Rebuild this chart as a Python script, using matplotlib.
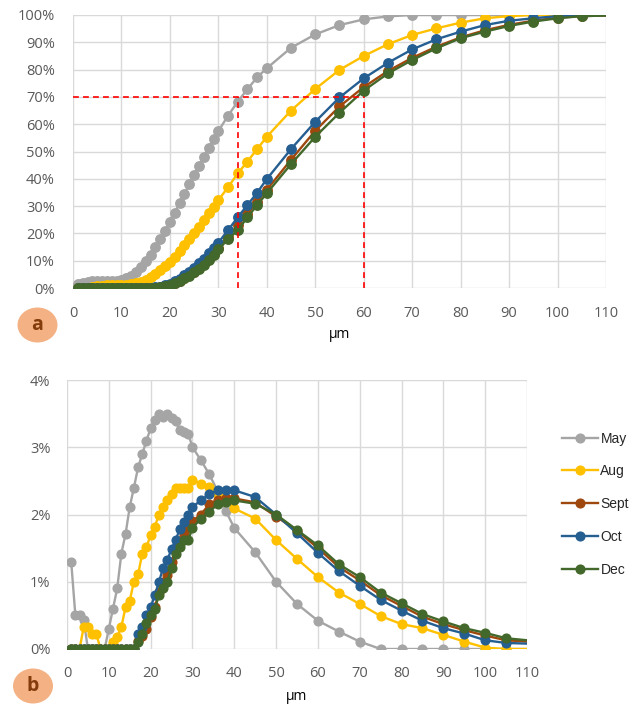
import matplotlib
matplotlib.use('Agg')
import matplotlib.pyplot as plt
from matplotlib.patches import Ellipse

# particle size (um)
x = list(range(1, 31)) + [32, 34, 36, 38, 40] + list(range(45, 111, 5))

# b: frequency distribution (%)
may_f = [1.3, 0.5, 0.5, 0.43, 0, 0, 0, 0, 0, 0.3, 0.6, 0.9, 1.42, 1.71, 2.11, 2.4, 2.7, 2.9, 3.1, 3.28,
         3.4, 3.5, 3.45, 3.5, 3.44, 3.39, 3.25, 3.22, 3.2, 3.0,
         2.81, 2.6, 2.35, 2.05, 1.8,
         1.44, 1.0, 0.67, 0.42, 0.26, 0.11, 0, 0, 0, 0, 0, 0, 0, 0]
aug_f = [0, 0, 0, 0.33, 0.33, 0.23, 0.23, 0, 0, 0, 0.1, 0.18, 0.33, 0.62, 0.72, 1.0, 1.11, 1.42, 1.52, 1.69,
         1.82, 2.0, 2.11, 2.21, 2.31, 2.4, 2.4, 2.4, 2.4, 2.52,
         2.46, 2.41, 2.3, 2.2, 2.09,
         1.94, 1.62, 1.34, 1.07, 0.84, 0.67, 0.49, 0.37, 0.31, 0.21, 0.11, 0.02, 0, 0]
sept_f = [0] * 16 + [0.12, 0.2, 0.3, 0.48,
          0.62, 0.85, 1.0, 1.1, 1.3, 1.48, 1.6, 1.7, 1.8, 1.9,
          2.0, 2.15, 2.22, 2.24, 2.24,
          2.18, 1.97, 1.76, 1.5, 1.22, 1.02, 0.8, 0.64, 0.48, 0.37, 0.28, 0.2, 0.13, 0.11]
oct_f = [0] * 16 + [0.22, 0.33, 0.5, 0.62,
         0.8, 1.0, 1.21, 1.32, 1.49, 1.62, 1.79, 1.89, 2.0, 2.11,
         2.21, 2.3, 2.36, 2.36, 2.36,
         2.26, 2.0, 1.72, 1.43, 1.16, 0.94, 0.73, 0.57, 0.42, 0.31, 0.23, 0.13, 0.09, 0.08]
dec_f = [0] * 16 + [0.1, 0.22, 0.38, 0.5,
         0.6, 0.8, 0.9, 1.0, 1.21, 1.42, 1.52, 1.62, 1.62, 1.8,
         1.94, 2.04, 2.15, 2.19, 2.21,
         2.16, 2.0, 1.77, 1.54, 1.26, 1.07, 0.84, 0.68, 0.52, 0.41, 0.31, 0.24, 0.16, 0.13]

# a: cumulative distribution (%)
may_c = [1.3, 1.8, 2.3, 2.7, 2.7, 2.7, 2.7, 2.7, 2.7, 3.0, 3.6, 4.5, 5.9, 7.6, 9.8, 12.2, 14.9, 17.8, 20.9, 24.2,
         27.6, 31.1, 34.5, 38.0, 41.4, 44.8, 48.1, 51.3, 54.5, 57.5,
         63.1, 68.3, 72.8, 77.2, 80.5,
         88.0, 92.9, 96.3, 98.4, 99.5, 100, 100, 100, 100, 100, 100, 100, 100, 100]
aug_c = [0, 0, 0, 0.3, 0.6, 0.9, 1.1, 1.1, 1.1, 1.1, 1.2, 1.4, 1.7, 2.3, 3.0, 4.0, 5.1, 6.5, 8.0, 9.7,
         11.5, 13.5, 15.6, 17.8, 20.1, 22.5, 24.9, 27.3, 29.7, 32.2,
         36.9, 42.0, 46.3, 50.9, 55.4,
         65.0, 72.9, 79.9, 85.0, 89.3, 92.7, 95.1, 97.2, 98.8, 99.6, 100, 100, 100, 100]
sept_c = [0] * 16 + [0.1, 0.3, 0.6, 1.1,
          1.7, 2.6, 3.6, 4.7, 6.0, 7.5, 9.1, 10.8, 12.6, 14.6,
          18.8, 22.9, 27.2, 31.6, 36.0,
          47.0, 57.6, 66.5, 73.6, 79.5, 84.3, 88.4, 91.8, 94.4, 96.4, 97.9, 99.0, 99.6, 99.8]
oct_c = [0] * 16 + [0.2, 0.5, 1.0, 1.6,
         2.4, 3.4, 4.6, 5.9, 7.4, 9.0, 10.8, 12.7, 14.7, 16.6,
         21.2, 25.9, 30.4, 34.9, 39.9,
         50.9, 60.9, 69.8, 76.8, 82.5, 87.4, 91.1, 93.9, 96.3, 97.9, 98.8, 99.6, 100, 100]
dec_c = [0] * 16 + [0.1, 0.3, 0.7, 1.2,
         1.8, 2.6, 3.5, 4.5, 5.7, 7.1, 8.6, 10.2, 12.0, 14.2,
         17.8, 21.2, 25.9, 30.4, 34.7,
         45.4, 55.4, 64.2, 72.3, 78.6, 83.5, 87.8, 91.5, 93.9, 96.0, 97.6, 98.8, 99.6, 99.8]

labels = ['May', 'Aug', 'Sept', 'Oct', 'Dec']
colors = ['#A5A5A5', '#FFC000', '#9E480E', '#255E91', '#43682B']

# reading lines on panel a
d70 = 70
d70_x = [34, 60]

tick_color = '#595959'
grid_color = '#D9D9D9'
tick_font = 'Open Sans'

fig = plt.figure(figsize=(6.32, 7.09), dpi=100)
W, H = 632, 709


def px_axes(l, t, r, b):
    return fig.add_axes([l / W, 1 - b / H, (r - l) / W, (b - t) / H])


def style(ax, ymax, ystep, xpad, ypad):
    ax.set_xlim(0, 110)
    ax.set_ylim(0, ymax)
    ax.set_xticks(range(0, 111, 10))
    ax.set_yticks([i * ystep for i in range(int(round(ymax / ystep)) + 1)])
    ax.set_yticklabels(['%d%%' % round(v) for v in ax.get_yticks()])
    ax.grid(True, color=grid_color, linewidth=1.0)
    ax.set_axisbelow(True)
    for s in ax.spines.values():
        s.set_visible(False)
    ax.tick_params(length=0, colors=tick_color, labelsize=10.5)
    ax.tick_params(axis='x', pad=xpad)
    ax.tick_params(axis='y', pad=ypad)
    for t in ax.get_xticklabels() + ax.get_yticklabels():
        t.set_fontfamily(tick_font)


# ---- panel a ----
ax1 = px_axes(73, 15, 606, 288)
style(ax1, 100, 10, 13, 13)
for ys, c in zip([may_c, aug_c, sept_c, oct_c, dec_c], colors):
    ax1.plot(x, ys, color=c, lw=1.7, marker='o', ms=6.8, mec=c, mfc=c,
             markevery=slice(0, len(x) - 1))
ax1.plot([0, d70_x[1]], [d70, d70], color='red', lw=1.2, dashes=(3.5, 2.5), zorder=5)
for xv in d70_x:
    ax1.plot([xv, xv], [0, d70], color='red', lw=1.2, dashes=(3.5, 2.5), zorder=5)

# ---- panel b ----
ax2 = px_axes(67, 380, 527, 649)
style(ax2, 4, 1, 12, 12)
for ys, c, lab in zip([may_f, aug_f, sept_f, oct_f, dec_f], colors, labels):
    ax2.plot(x, ys, color=c, lw=1.7, marker='o', ms=6.3, mec=c, mfc=c,
             markevery=slice(0, len(x) - 1), label=lab)

leg = ax2.legend(loc='center left', bbox_to_anchor=(549 / W, 1 - 504 / H),
                 bbox_transform=fig.transFigure, frameon=False,
                 handlelength=2.6, handletextpad=0.2, labelspacing=1.35,
                 prop={'family': 'Liberation Sans', 'size': 10})
for t in leg.get_texts():
    t.set_color('#262626')

# axis titles
fig.text(340 / W, 1 - 335 / H, 'µm', ha='center', va='center', fontsize=10, family=tick_font)
fig.text(297 / W, 1 - 697 / H, 'µm', ha='center', va='center', fontsize=10, family=tick_font)

# panel badges
for cx, cy, letter in [(37.5, 325, 'a'), (33, 686, 'b')]:
    e = Ellipse((cx / W, 1 - cy / H), 40 / W, 35 / H, transform=fig.transFigure,
                facecolor='#F4B183', edgecolor='none')
    fig.patches.append(e)
    fig.text(cx / W, 1 - cy / H, letter, ha='center', va='center', fontsize=14,
             fontweight='bold', color='#843C0C', family=tick_font)

fig.savefig('out.png', dpi=100)
